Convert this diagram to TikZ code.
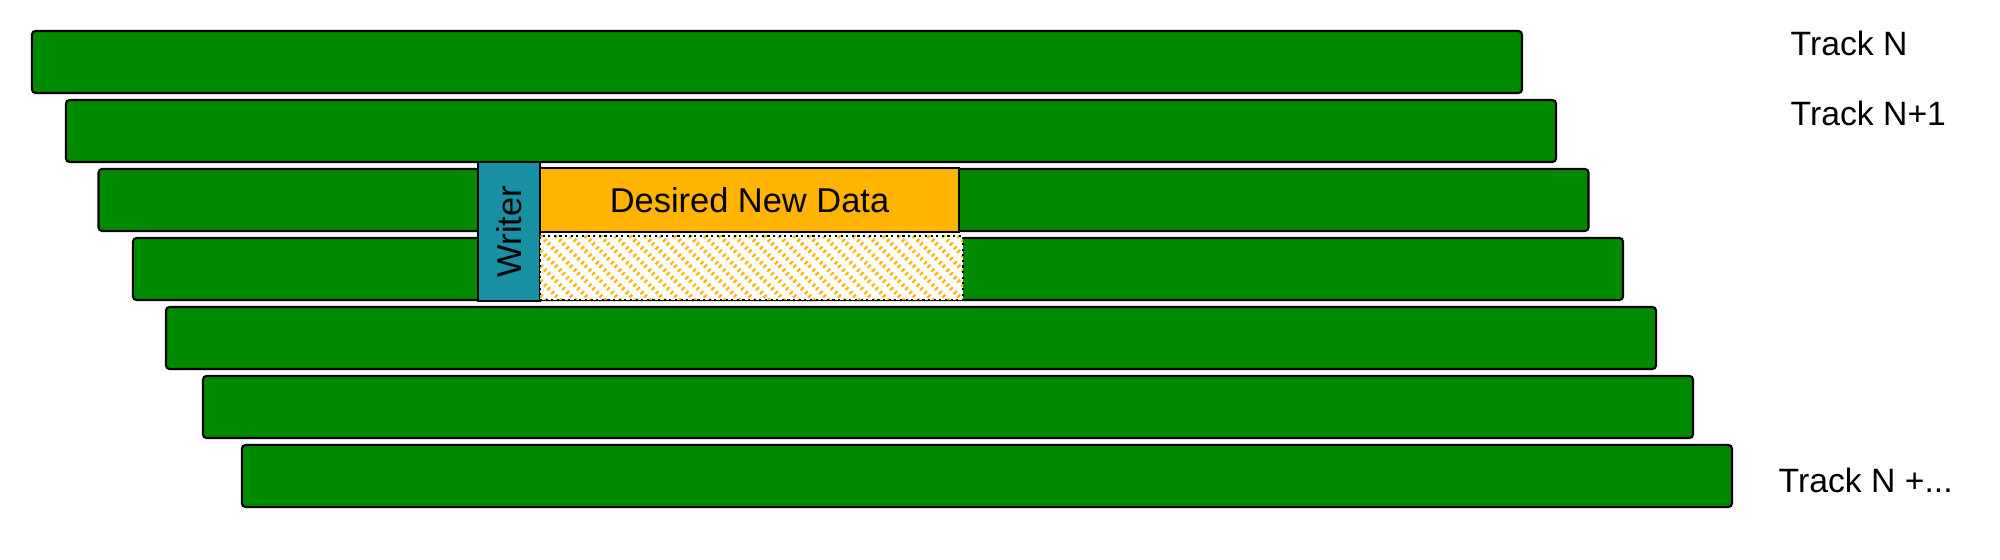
\documentclass[tikz,border=0pt]{standalone}
\usepackage{xcolor}
\usepackage{fontspec}
\setmainfont{Liberation Sans}
\usepackage{tikz}
\usetikzlibrary{shapes}
\usetikzlibrary{patterns.meta}
\definecolor{trackgreen}{RGB}{0,138,0}
\definecolor{writerteal}{RGB}{24,143,163}
\definecolor{dataorange}{RGB}{255,180,0}
\tikzstyle{track} = [rectangle, draw = black, fill = trackgreen, line width = 0.6pt, rounded corners = 1pt, minimum width = 14.9cm, minimum height = 0.62cm, inner sep = 0]
\tikzstyle{tracklabel} = [draw = none, anchor = west, inner sep = 0, font = \fontsize{9.6}{11}\selectfont]

\begin{document}
\begin{tikzpicture}
\useasboundingbox (0, 0) rectangle (20, 5.6);
\node [track] (T1) at (7.77, 4.98) {};
\node [track] (T2) at (8.11, 4.29) {};
\node [track] (T3) at (8.435, 3.60) {};
\node [track] (T4) at (8.78, 2.91) {};
\node [track] (T5) at (9.11, 2.22) {};
\node [track] (T6) at (9.48, 1.53) {};
\node [track] (T7) at (9.87, 0.84) {};
% writer head over two tracks
\node [rectangle, draw = black, fill = writerteal, line width = 0.6pt, minimum width = 0.62cm, minimum height = 1.39cm, inner sep = 0] (W) at (5.09, 3.285) {};
\node [rotate = 90, inner sep = 0, font = \fontsize{9.8}{11}\selectfont] (Wl) at (W.center) {Writer};
\node [rectangle, draw = black, fill = dataorange, line width = 0.7pt, minimum width = 4.19cm, minimum height = 0.64cm, inner sep = 0, font = \fontsize{9.8}{11}\selectfont] (D) at (7.495, 3.60) {Desired New Data};
\node [rectangle, draw = black, densely dotted, preaction = {fill = white}, pattern = {Lines[angle = -45, distance = 3pt, line width = 1.2pt]}, pattern color = dataorange, line width = 0.6pt, minimum width = 4.23cm, minimum height = 0.64cm, inner sep = 0] (H) at (7.515, 2.92) {};
\node [tracklabel] (L1) at (17.90, 5.17) {Track N};
\node [tracklabel] (L2) at (17.90, 4.47) {Track N+1};
\node [tracklabel] (L7) at (17.78, 0.80) {Track N +...};
\end{tikzpicture}
\end{document}
